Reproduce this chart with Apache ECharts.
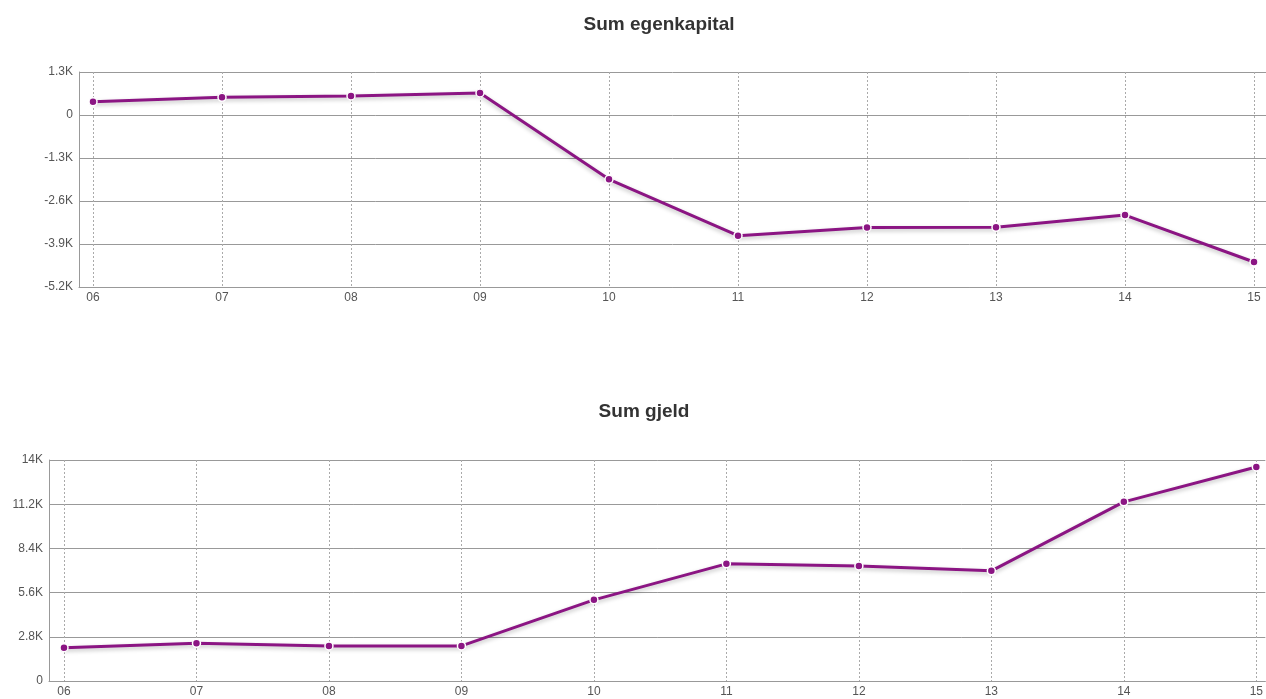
<!DOCTYPE html>
<html>
<head>
<meta charset="utf-8">
<script src="https://cdn.jsdelivr.net/npm/echarts@6/dist/echarts.min.js"></script>
<style>
  html, body { margin: 0; padding: 0; background: #fff; }
  #chart { width: 1266px; height: 699px; }
</style>
</head>
<body>
<div id="chart"></div>
<script>
// Year labels shared by both panels
const years = ['06', '07', '08', '09', '10', '11', '12', '13', '14', '15'];

// Sum egenkapital (equity)
const egenkapital = [400, 535, 575, 665, -1945, -3650, -3400, -3395, -3025, -4445];

// Sum gjeld (debt)
const gjeld = [2110, 2390, 2220, 2220, 5140, 7420, 7290, 6980, 11350, 13560];

// Value-axis tick settings
const egenkapitalTicks = { min: -5200, max: 1300, interval: 1300 };
const gjeldTicks = { min: 0, max: 14000, interval: 2800 };

const yearIdx = years.map((_, i) => i);
const kFormat = v => (v === 0 ? '0' : (v / 1000) + 'K');
const lineColor = '#8b1583';
const labelColor = '#555';
const font = 'Liberation Sans, Arial, sans-serif';

function xAxisFor(gridIndex, min, max) {
  return {
    type: 'value',
    gridIndex,
    min, max,
    axisLine: { show: true, onZero: false, lineStyle: { color: '#999', width: 1 } },
    axisTick: { show: false, customValues: yearIdx },
    axisLabel: {
      customValues: yearIdx,
      color: labelColor, fontSize: 12, fontFamily: font, margin: 5,
      formatter: v => years[Math.round(v)]
    },
    splitLine: { show: true, lineStyle: { color: '#aaa', type: [2, 2], width: 1 } }
  };
}

function yAxisFor(gridIndex, t) {
  return {
    type: 'value',
    gridIndex,
    min: t.min, max: t.max, interval: t.interval,
    axisLine: { show: true, onZero: false, lineStyle: { color: '#999', width: 1 } },
    axisTick: { show: false },
    axisLabel: { color: labelColor, fontSize: 12, fontFamily: font, margin: 6, formatter: kFormat },
    splitLine: { show: true, lineStyle: { color: '#999', width: 1 } }
  };
}

function lineSeries(idx, values) {
  return {
    type: 'line',
    xAxisIndex: idx,
    yAxisIndex: idx,
    data: values.map((v, i) => [i, v]),
    symbol: 'circle',
    symbolSize: 8,
    showSymbol: true,
    lineStyle: {
      color: lineColor, width: 3,
      shadowColor: 'rgba(0,0,0,0.25)', shadowBlur: 4, shadowOffsetY: 2
    },
    itemStyle: { color: lineColor, borderColor: '#fff', borderWidth: 1.5 },
    animation: false
  };
}

const chart = echarts.init(document.getElementById('chart'), null, { renderer: 'canvas' });
chart.setOption({
  animation: false,
  title: [
    {
      text: 'Sum egenkapital', left: 654, top: 10, textAlign: 'center',
      textStyle: { fontSize: 19, fontWeight: 'bold', color: '#333', fontFamily: font }
    },
    {
      text: 'Sum gjeld', left: 639, top: 397, textAlign: 'center',
      textStyle: { fontSize: 19, fontWeight: 'bold', color: '#333', fontFamily: font }
    }
  ],
  grid: [
    { left: 79, top: 72, width: 1187, height: 215 },
    { left: 49, top: 460, width: 1217, height: 221 }
  ],
  xAxis: [
    xAxisFor(0, -14 / 129, 9 + 12 / 129),
    xAxisFor(1, -15 / 132.6, 9 + 9 / 132.6)
  ],
  yAxis: [
    yAxisFor(0, egenkapitalTicks),
    yAxisFor(1, gjeldTicks)
  ],
  series: [
    lineSeries(0, egenkapital),
    lineSeries(1, gjeld)
  ]
});
</script>
</body>
</html>
